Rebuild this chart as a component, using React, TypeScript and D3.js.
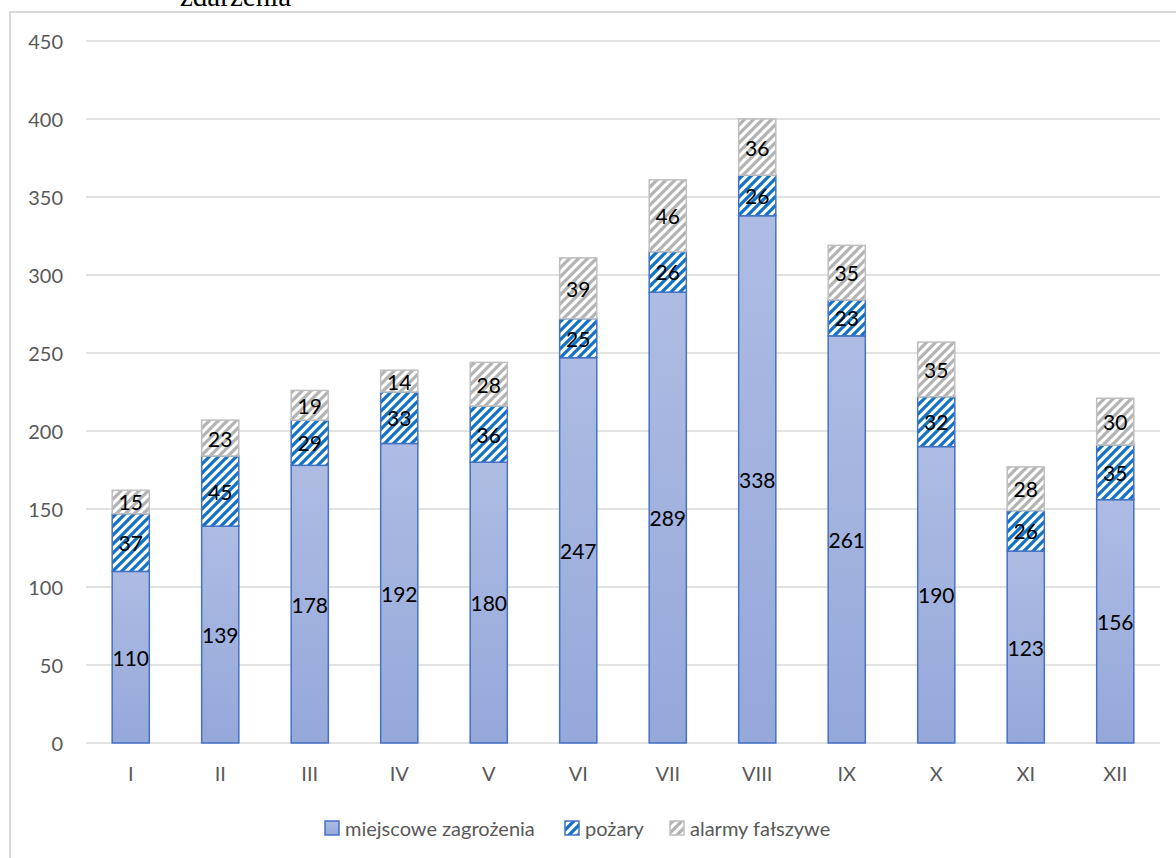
import React from "react";
import * as d3 from "d3";

const months = ["I", "II", "III", "IV", "V", "VI", "VII", "VIII", "IX", "X", "XI", "XII"];
const miejscowe = [110, 139, 178, 192, 180, 247, 289, 338, 261, 190, 123, 156];
const pozary = [37, 45, 29, 33, 36, 25, 26, 26, 23, 32, 26, 35];
const alarmy = [15, 23, 19, 14, 28, 39, 46, 36, 35, 35, 28, 30];
const yTicks = [0, 50, 100, 150, 200, 250, 300, 350, 400, 450];
const seriesNames = ["miejscowe zagrożenia", "pożary", "alarmy fałszywe"];
const title = "zdarzenia";

const W = 1176;
const H = 858;
const FONT = "Lato, 'Open Sans', sans-serif";

export default function App() {
  const x = d3.scaleBand<string>().domain(months).range([86, 1160]).paddingInner(0.585).paddingOuter(0.2925);
  const y = d3.scaleLinear().domain([0, 450]).range([743, 41]);

  const rows = months.map((m, i) => ({ m, a: miejscowe[i], b: pozary[i], c: alarmy[i] }));
  const stack = d3.stack<any>().keys(["a", "b", "c"])(rows);

  const fills = ["url(#gradBlue)", "url(#patBlue)", "url(#patGray)"];
  const strokes = ["#4472C4", "#4472C4", "#BFBFBF"];

  const legendX = [325, 565, 670];

  return (
    <div style={{ position: "fixed", left: 0, top: 0 }}>
      <svg width={W} height={H} style={{ display: "block", background: "#fff" }}>
        <defs>
          <linearGradient id="gradBlue" x1="0" y1="0" x2="0" y2="1">
            <stop offset="0" stopColor="#AEBCE3" />
            <stop offset="1" stopColor="#95A8DA" />
          </linearGradient>
          <pattern id="patBlue" patternUnits="userSpaceOnUse" width="9" height="9">
            <rect width="9" height="9" fill="#fff" />
            <path d="M-2,2 L2,-2 M0,9 L9,0 M7,11 L11,7" stroke="#1172C6" strokeWidth="3.2" />
          </pattern>
          <pattern id="patGray" patternUnits="userSpaceOnUse" width="9" height="9">
            <rect width="9" height="9" fill="#fff" />
            <path d="M-2,2 L2,-2 M0,9 L9,0 M7,11 L11,7" stroke="#B3B3B3" strokeWidth="3.2" />
          </pattern>
        </defs>

        <rect x={10} y={12} width={1300} height={1000} fill="none" stroke="#D9D9D9" strokeWidth={2} />

        <text x={180} y={6} fontFamily="'Liberation Serif', 'Times New Roman', serif" fontSize={29} fill="#000">
          {title}
        </text>

        {yTicks.map((t) => (
          <g key={t}>
            <line x1={86} x2={1160} y1={y(t)} y2={y(t)} stroke="#D9D9D9" strokeWidth={1.5} />
            <text x={63} y={y(t)} textAnchor="end" dominantBaseline="central" fontFamily={FONT} fontSize={20} fill="#595959">
              {t}
            </text>
          </g>
        ))}

        {stack.map((layer, si) => (
          <g key={si}>
            {layer.map((d: any, i: number) => {
              const x0 = x(months[i])!;
              const y0 = y(d[1]);
              const h = y(d[0]) - y(d[1]);
              return (
                <rect key={i} x={x0} y={y0} width={x.bandwidth()} height={h} fill={fills[si]} stroke={strokes[si]} strokeWidth={1.5} />
              );
            })}
          </g>
        ))}

        {stack.map((layer, si) => (
          <g key={"l" + si}>
            {layer.map((d: any, i: number) => {
              const cx = x(months[i])! + x.bandwidth() / 2;
              const cy = (y(d[0]) + y(d[1])) / 2;
              return (
                <text key={i} x={cx} y={cy} textAnchor="middle" dominantBaseline="central" fontFamily={FONT} fontSize={21} fill="#000">
                  {d[1] - d[0]}
                </text>
              );
            })}
          </g>
        ))}

        {months.map((m) => (
          <text key={m} x={x(m)! + x.bandwidth() / 2} y={773} textAnchor="middle" dominantBaseline="central" fontFamily={FONT} fontSize={20} fill="#595959">
            {m}
          </text>
        ))}

        {seriesNames.map((n, i) => (
          <g key={n}>
            <rect x={legendX[i]} y={821} width={14} height={14} fill={fills[i]} stroke={strokes[i]} strokeWidth={1.5} />
            <text x={legendX[i] + 20} y={828} dominantBaseline="central" fontFamily={FONT} fontSize={20} fill="#595959">
              {n}
            </text>
          </g>
        ))}
      </svg>
    </div>
  );
}
